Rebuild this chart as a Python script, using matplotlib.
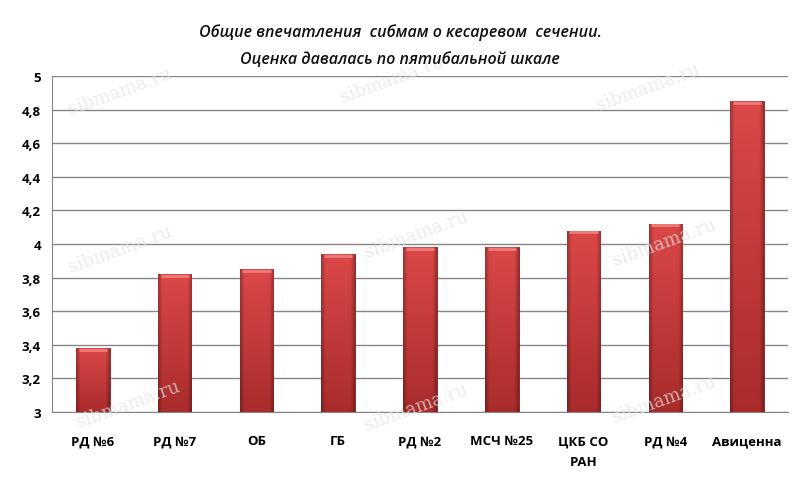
import numpy as np
import matplotlib.pyplot as plt
from matplotlib.colors import to_rgb

# Данные
categories = ["РД №6", "РД №7", "ОБ", "ГБ", "РД №2", "МСЧ №25", "ЦКБ СО\nРАН", "РД №4", "Авиценна"]
values = [3.38, 3.82, 3.85, 3.94, 3.98, 3.98, 4.08, 4.12, 4.85]
y_ticks = [3, 3.2, 3.4, 3.6, 3.8, 4, 4.2, 4.4, 4.6, 4.8, 5]
y_labels = ["3", "3,2", "3,4", "3,6", "3,8", "4", "4,2", "4,4", "4,6", "4,8", "5"]
title = "Общие впечатления  сибмам о кесаревом  сечении.\nОценка давалась по пятибальной шкале"

plt.rcParams['font.family'] = ['Open Sans', 'DejaVu Sans']

fig = plt.figure(figsize=(8, 4.85), dpi=100)
ax = fig.add_axes([0.065, 0.1485, 0.92, 0.6925])

x = np.arange(len(categories))
bars = ax.bar(x, values, width=0.41, color="#c83a3c",
              edgecolor="#7a1c1c", linewidth=0.6, zorder=3)

# градиент: сверху светлее, снизу темнее, края темнее
top_c = np.array(to_rgb("#dc4848"))
bot_c = np.array(to_rgb("#a92c2c"))
for b in bars:
    x0, w, h = b.get_x(), b.get_width(), b.get_height()
    ny, nx = 100, 40
    t = np.linspace(0, 1, ny).reshape(-1, 1, 1)
    img = top_c * (1 - t) + bot_c * t
    img = np.repeat(img, nx, axis=1)
    u = np.linspace(-1, 1, nx)
    shade = 1 - 0.28 * np.clip((np.abs(u) - 0.75) / 0.25, 0, 1)
    img = img * shade.reshape(1, -1, 1)
    im = ax.imshow(img, aspect="auto", zorder=3.5, origin="upper",
                   extent=[x0, x0 + w, 3, h], interpolation="bilinear")
    im.set_clip_path(b)
    # светлая фаска сверху
    ax.plot([x0 + w * 0.08, x0 + w * 0.92], [h - 0.009, h - 0.009],
            color="#ee7a7a", lw=2, zorder=4, solid_capstyle="butt")

ax.set_xlim(-0.5, len(categories) - 0.5)
ax.set_ylim(3, 5)
ax.set_yticks(y_ticks)
ax.set_yticklabels(y_labels, fontweight="bold", fontsize=9.5)
ax.set_xticks(x)
ax.set_xticklabels(categories, fontweight="bold", fontsize=9.5, linespacing=1.75)
ax.tick_params(axis="both", length=0, pad=8)
ax.tick_params(axis="x", pad=16)
ax.grid(axis="y", color="#868686", linewidth=1, zorder=0)
for s in ["top", "right"]:
    ax.spines[s].set_visible(False)
for s in ["left", "bottom"]:
    ax.spines[s].set_color("#868686")

# водяные знаки
for wx, wy in [(0.15, 0.81), (0.49, 0.835), (0.81, 0.82),
               (0.15, 0.485), (0.52, 0.515), (0.83, 0.50),
               (0.16, 0.165), (0.52, 0.16), (0.83, 0.175)]:
    fig.text(wx, wy, "sibmama.ru", fontsize=13, family="DejaVu Serif",
             color="#e4e4e4", alpha=0.7, rotation=20, ha="center",
             va="center", zorder=5)

fig.text(0.5, 0.905, title, ha="center", va="center", fontsize=11.5,
         style="italic", fontweight="semibold", linespacing=1.85,
         color="#111111", zorder=20)

fig.savefig("out.png", dpi=100)
